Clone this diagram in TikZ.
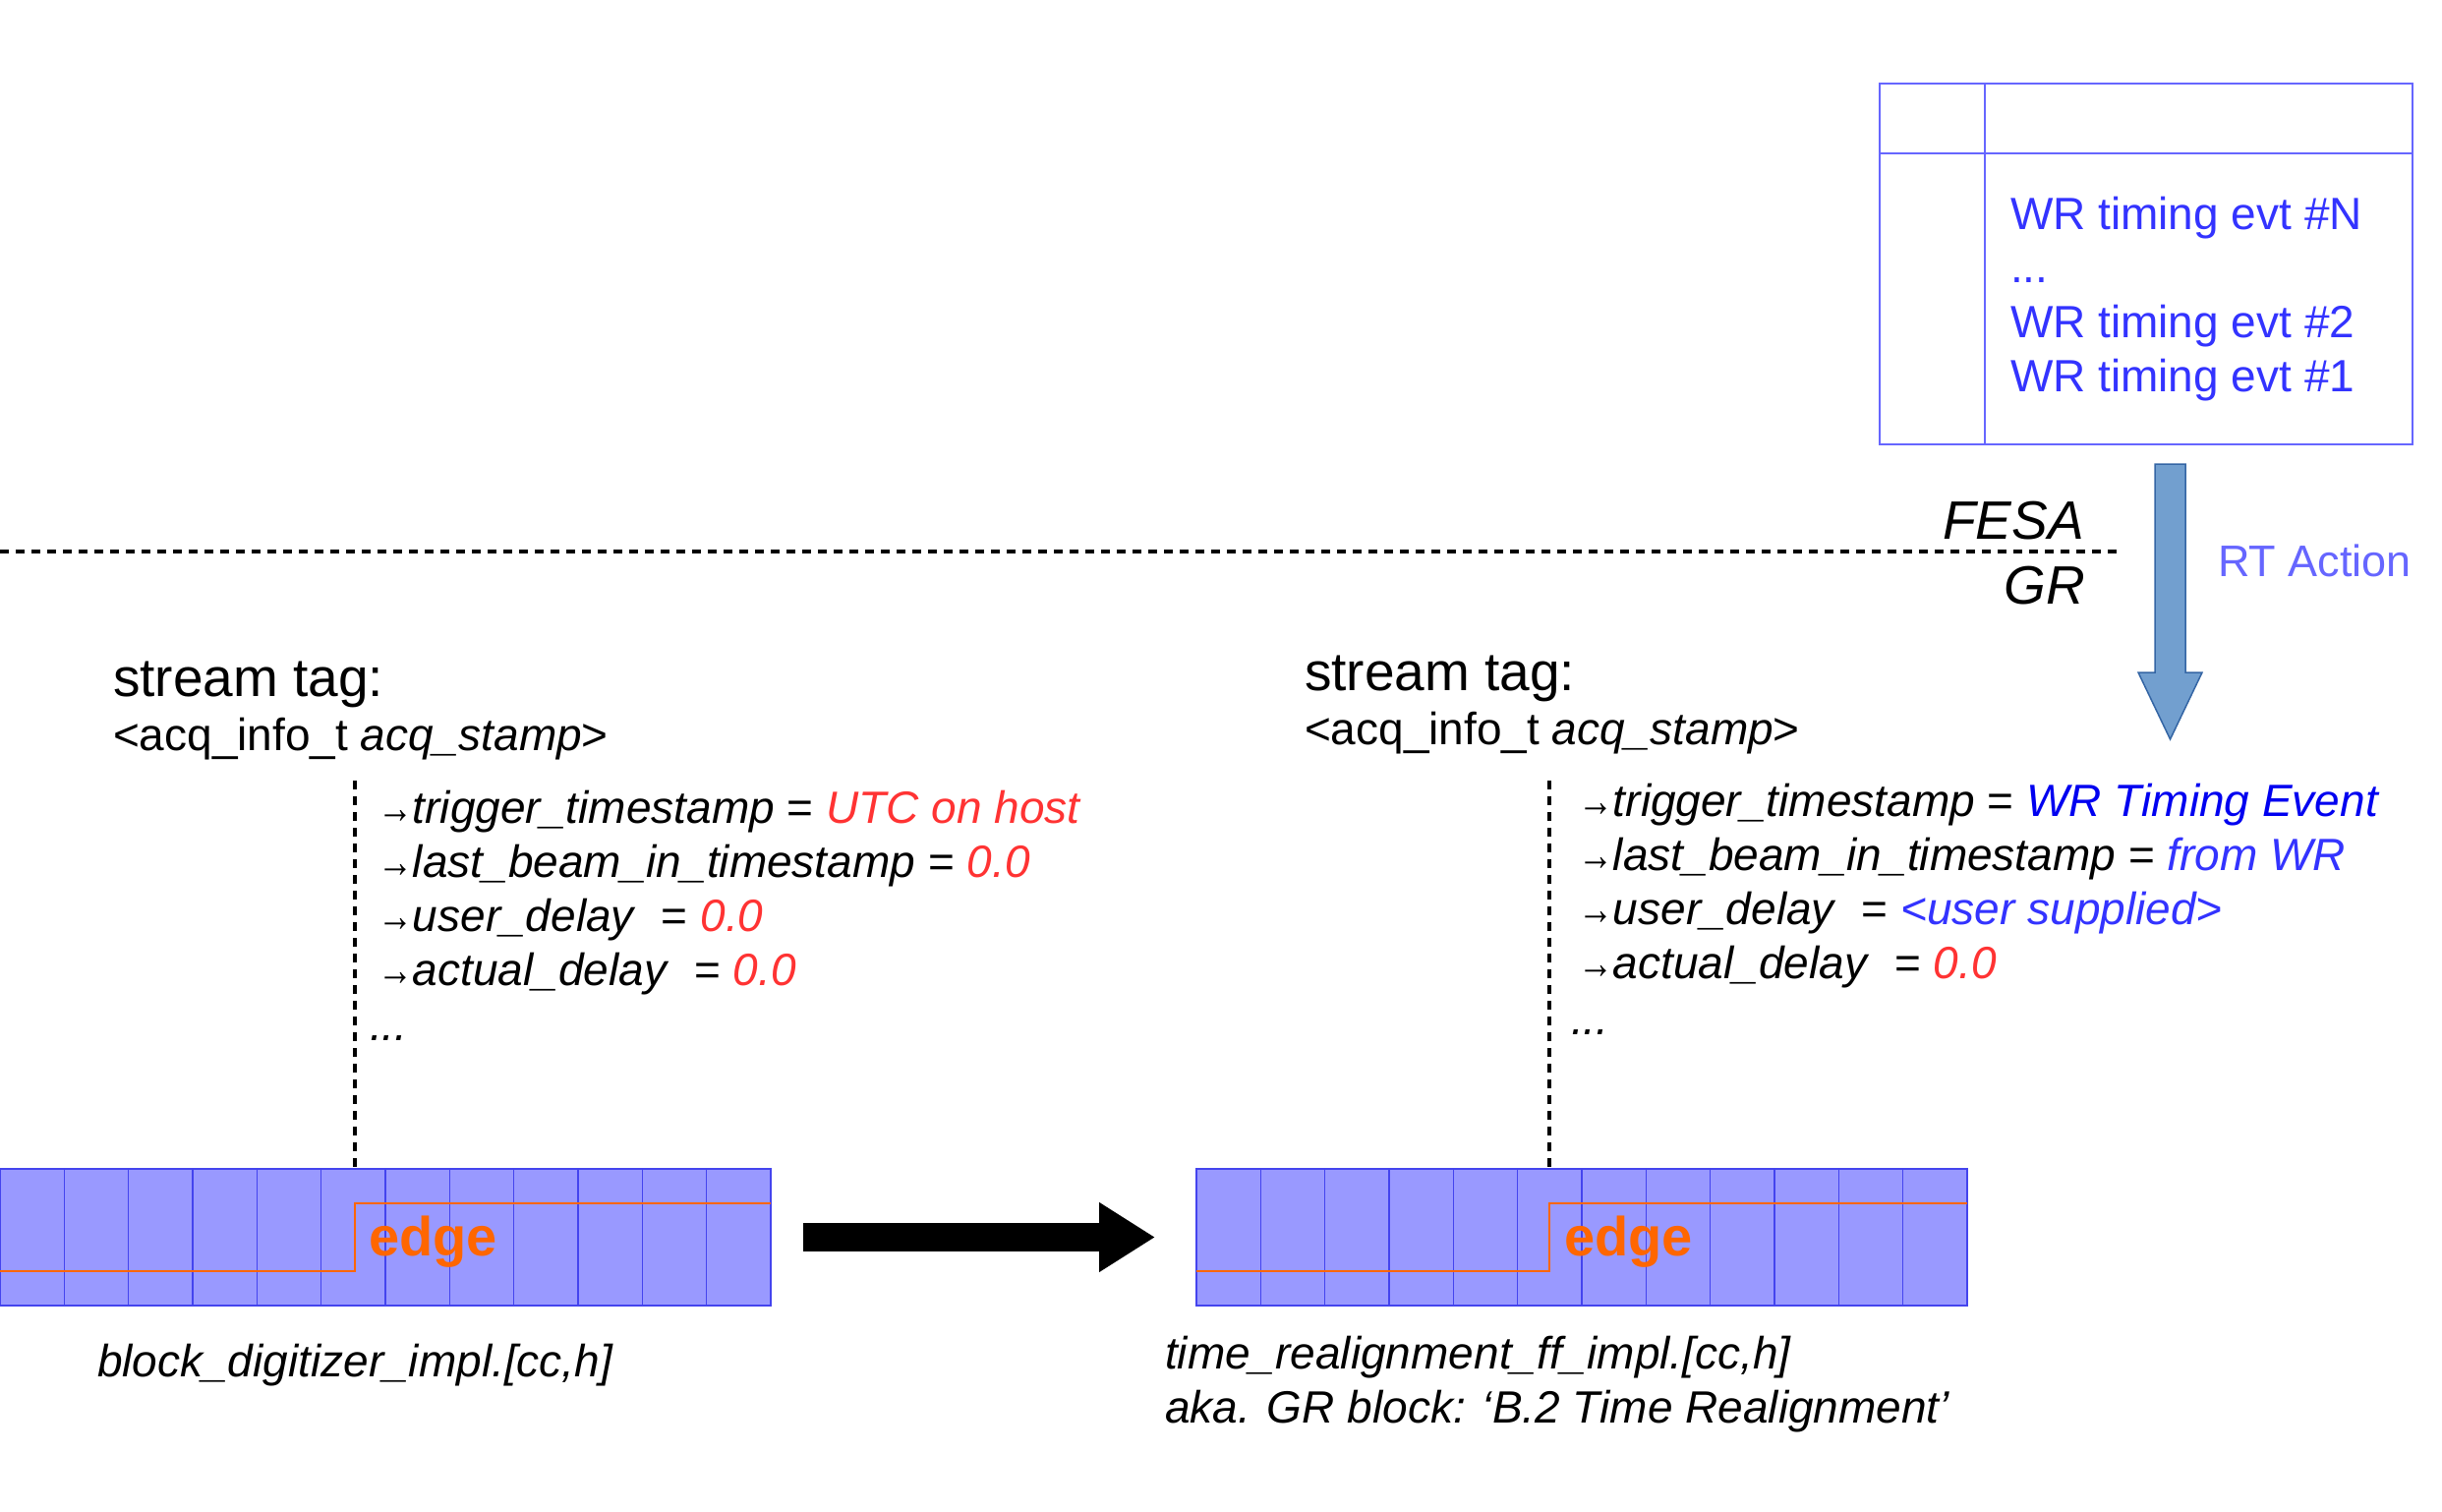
\documentclass[tikz,border=0pt]{standalone}
\usepackage{graphicx}
\usepackage{fontspec}
\setmainfont{Liberation Sans}
\usetikzlibrary{arrows.meta,calc}
\definecolor{tblblue}{RGB}{102,102,255}
\definecolor{wrtext}{RGB}{51,51,255}
\definecolor{wrevent}{RGB}{0,0,240}
\definecolor{redval}{RGB}{255,51,51}
\definecolor{rtcol}{RGB}{102,102,255}
\definecolor{cellfill}{RGB}{153,153,255}
\definecolor{cellline}{RGB}{68,68,238}
\definecolor{edgeorange}{RGB}{255,102,0}
\definecolor{arrowfill}{RGB}{114,159,207}
\definecolor{arrowdraw}{RGB}{52,101,164}
\newcommand{\myarr}{\scalebox{0.78}[1]{→}}
\begin{document}
\begin{tikzpicture}[x=1pt,y=-1pt,
  txt/.style={anchor=base west, inner sep=0pt, outer sep=0pt, font=\fontsize{46}{55}\selectfont},
  bigtxt/.style={anchor=base west, inner sep=0pt, outer sep=0pt, font=\fontsize{55}{66}\selectfont},
  dashline/.style={line width=4pt, dash pattern=on 9pt off 7pt},
  blockbox/.style={draw=cellline, fill=cellfill, line width=1.5pt, minimum width=784pt, minimum height=139pt, inner sep=0pt, outer sep=0pt},
  cellsep/.style={draw=cellline, line width=1.5pt},
  stepline/.style={draw=edgeorange, line width=2pt},
  edgelbl/.style={anchor=base west, inner sep=0pt, text=edgeorange, font=\fontsize{56}{66}\selectfont\bfseries}]
\useasboundingbox (0,0) rectangle (2484,1538);

% ---------- table of WR events ----------
\node[draw=tblblue, line width=1.5pt, minimum width=542pt, minimum height=367pt, inner sep=0pt, outer sep=0pt, anchor=north west] (tbl) at (1912,85) {};
\draw[tblblue, line width=1.5pt] (2019,85) -- (2019,452);
\draw[tblblue, line width=1.5pt] (1912,156) -- (2454,156);
\node[txt, text=wrtext] (evtN) at (2045,234) {WR timing evt \#N};
\node[txt, text=wrtext] (evtd) at (2045,288) {...};
\node[txt, text=wrtext] (evt2) at (2045,343) {WR timing evt \#2};
\node[txt, text=wrtext] (evt1) at (2045,398) {WR timing evt \#1};

% ---------- FESA / GR separator ----------
\coordinate (sepL) at (0,561);
\coordinate (sepR) at (2157,561);
\draw[dashline] (sepL) -- (sepR);
\node[bigtxt, anchor=base east, font=\fontsize{55}{66}\selectfont\itshape] (fesa) at (2120,548) {FESA};
\node[bigtxt, anchor=base east, font=\fontsize{55}{66}\selectfont\itshape] (gr) at (2121,614) {GR};

% ---------- RT action arrow ----------
\draw[fill=arrowfill, draw=arrowdraw, line width=1.5pt]
  (2192,472) -- (2223,472) -- (2223,684) -- (2240,684) -- (2207.5,752) -- (2175,684) -- (2192,684) -- cycle;
\node[txt, text=rtcol, font=\fontsize{45}{54}\selectfont] (rt) at (2256,586) {RT Action};

% ---------- left stream tag ----------
\node[bigtxt] (st1) at (115,708) {stream tag:};
\node[txt] (acq1) at (115,763) {<acq\_info\_t \textit{acq\_stamp}>};
\node[txt] (la) at (384,837) {\myarr\textit{trigger\_timestamp} = \textcolor{redval}{\textit{UTC on host}}};
\node[txt] (lb) at (384,892) {\myarr\textit{last\_beam\_in\_timestamp} = \textcolor{redval}{\textit{0.0}}};
\node[txt] (lc) at (384,947) {\myarr\textit{user\_delay}\ \ = \textcolor{redval}{\textit{0.0}}};
\node[txt] (ld) at (384,1002) {\myarr\textit{actual\_delay}\ \ = \textcolor{redval}{\textit{0.0}}};
\node[txt] (le) at (376,1058) {\textit{...}};

% ---------- right stream tag ----------
\node[bigtxt] (st2) at (1327,702) {stream tag:};
\node[txt] (acq2) at (1327,757) {<acq\_info\_t \textit{acq\_stamp}>};
\node[txt] (ra) at (1605,830) {\myarr\textit{trigger\_timestamp} = \textcolor{wrevent}{\textit{WR Timing Event}}};
\node[txt] (rb) at (1605,885) {\myarr\textit{last\_beam\_in\_timestamp} = \textcolor{wrtext}{\textit{from WR}}};
\node[txt] (rc) at (1605,940) {\myarr\textit{user\_delay}\ \ = \textcolor{wrtext}{\textit{<user supplied>}}};
\node[txt] (rd) at (1605,995) {\myarr\textit{actual\_delay}\ \ = \textcolor{redval}{\textit{0.0}}};
\node[txt] (re) at (1598,1052) {\textit{...}};

% ---------- left block ----------
\node[blockbox, anchor=north west] (blk1) at (0,1189) {};
\foreach \i in {1,...,11} {
  \draw[cellsep] ($(blk1.north west)+(\i*65.33,0)$) -- ($(blk1.south west)+(\i*65.33,0)$);
}
\draw[stepline] (0,1293) -- (361,1293) -- (361,1224) -- (784,1224);
\node[edgelbl] (edge1) at (375,1277) {edge};
\coordinate (d1) at (361,794);
\draw[dashline] (d1) -- (d1 |- blk1.north);
\node[txt, font=\fontsize{46}{55}\selectfont\itshape] (name1) at (99,1400) {block\_digitizer\_impl.[cc,h]};

% ---------- right block ----------
\node[blockbox, anchor=north west] (blk2) at (1217,1189) {};
\foreach \i in {1,...,11} {
  \draw[cellsep] ($(blk2.north west)+(\i*65.33,0)$) -- ($(blk2.south west)+(\i*65.33,0)$);
}
\draw[stepline] (1217,1293) -- (1576,1293) -- (1576,1224) -- (2001,1224);
\node[edgelbl] (edge2) at (1591,1277) {edge};
\coordinate (d2) at (1576,794);
\draw[dashline] (d2) -- (d2 |- blk2.north);
\node[txt, font=\fontsize{46}{55}\selectfont\itshape] (name2) at (1185,1392) {time\_realignment\_ff\_impl.[cc,h]};
\node[txt, font=\fontsize{46}{55}\selectfont\itshape] (name3) at (1185,1447) {aka. GR block: ‘B.2 Time Realignment’};

% ---------- big black arrow ----------
\draw[line width=29pt, -{Triangle[length=57pt,width=67pt]}] ([xshift=33pt]blk1.east) -- ([xshift=-42pt]blk2.west);
\end{tikzpicture}
\end{document}
